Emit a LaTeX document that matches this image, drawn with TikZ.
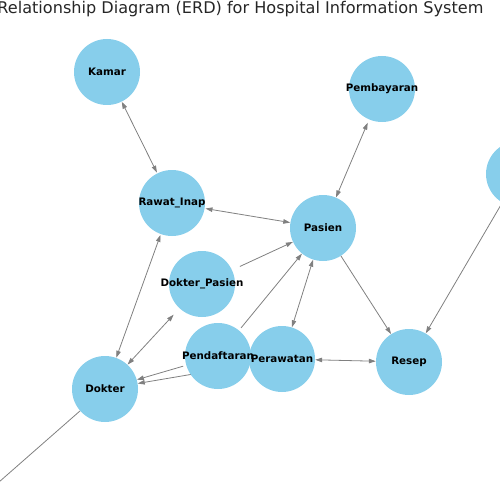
\documentclass[tikz,border=0pt]{standalone}
\usepackage{fontspec}
\setmainfont{DejaVu Sans}
\usetikzlibrary{arrows.meta,backgrounds}
\definecolor{skyblue}{HTML}{87CEEB}
\definecolor{edgegray}{HTML}{808080}

\begin{document}
\begin{tikzpicture}[x=1pt,y=-1pt,
  entity/.style={circle,minimum size=66pt,inner sep=0pt,font=\bfseries\fontsize{10.3}{12}\selectfont},
  rel/.style={draw=edgegray,line width=0.8pt,-{Triangle[length=7pt,width=4.5pt]}},
  relboth/.style={rel,{Triangle[length=7pt,width=4.5pt]}-{Triangle[length=7pt,width=4.5pt]}}]
\useasboundingbox (0,0) rectangle (500,500);
\clip (0,0) rectangle (500,500);
% title
\node[anchor=east,font=\fontsize{16.1}{19}\selectfont,text=black!85] (title) at (487,9) {Relationship Diagram (ERD) for Hospital Information System};
% entities
\node[entity] (kamar) at (107,72) {Kamar};
\node[entity] (pembayaran) at (382,89) {Pembayaran};
\node[entity] (rawatinap) at (172,203) {Rawat\_Inap};
\node[entity] (pasien) at (323,228) {Pasien};
\node[entity] (dokpasien) at (202,284) {Dokter\_Pasien};
\node[entity] (pendaftaran) at (218,356) {Pendaftaran};
\node[entity] (perawatan) at (282,359) {Perawatan};
\node[entity] (resep) at (409,362) {Resep};
\node[entity] (dokter) at (105,389) {Dokter};
\node[entity] (extright) at (519,174) {};
\node[entity] (extleft) at (-50,525) {};
% relations, below the disks
\begin{scope}[on background layer]
\draw[relboth] (kamar) -- (rawatinap);
\draw[relboth] (pembayaran) -- (pasien);
\draw[relboth] (rawatinap) -- (pasien);
\draw[relboth] (rawatinap) -- (dokter);
\draw[rel] (dokpasien) -- (pasien);
\draw[relboth] (dokpasien) -- (dokter);
\draw[rel] (pendaftaran) -- (pasien);
\draw[rel] (pendaftaran) -- (dokter);
\draw[rel] (perawatan) -- (dokter);
\draw[relboth] (pasien) -- (perawatan);
\draw[relboth] (perawatan) -- (resep);
\draw[rel] (pasien) -- (resep);
\draw[rel] (extright) -- (resep);
\draw[rel] (dokter) -- (extleft);
\foreach \n in {kamar,pembayaran,rawatinap,pasien,dokpasien,pendaftaran,perawatan,resep,dokter,extright,extleft}
  \fill[skyblue] (\n) circle[radius=33];
\end{scope}
\end{tikzpicture}
\end{document}
